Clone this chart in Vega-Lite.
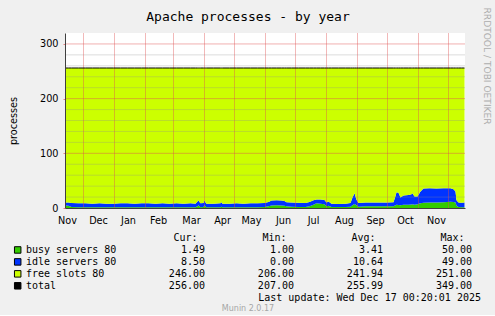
{
  "$schema": "https://vega.github.io/schema/vega-lite/v6.json",
  "background": "#F0F0F0",
  "padding": {"left": 8, "top": 7, "right": 4, "bottom": 2},
  "spacing": 30,
  "bounds": "flush",
  "config": {
    "view": {"stroke": null},
    "axis": {"labelOverlap": false},
    "text": {"font": "DejaVu Sans Mono", "fontSize": 10, "color": "#000000"}
  },
  "title": {"text": "RRDTOOL / TOBI OETIKER", "orient": "right", "anchor": "start", "frame": "bounds", "font": "DejaVu Sans", "fontSize": 9.1, "fontWeight": "normal", "color": "#ADADAD", "offset": 1, "dx": -3},
  "datasets": {
    "series": [
      {"d": "2024-11-12T12:00", "busy": 4.5, "idle": 5.5, "free": 246, "total": 256},
      {"d": "2024-11-16T00:00", "busy": 4, "idle": 6, "free": 246, "total": 256},
      {"d": "2024-11-19T00:00", "busy": 2, "idle": 7, "free": 247, "total": 256},
      {"d": "2024-11-26T00:00", "busy": 1.5, "idle": 7, "free": 247.5, "total": 256},
      {"d": "2024-12-03T00:00", "busy": 1.5, "idle": 7, "free": 247.5, "total": 256},
      {"d": "2024-12-10T00:00", "busy": 1.5, "idle": 6.5, "free": 248, "total": 256},
      {"d": "2024-12-17T00:00", "busy": 1.5, "idle": 7, "free": 247.5, "total": 256},
      {"d": "2024-12-24T00:00", "busy": 1.2, "idle": 6.8, "free": 248, "total": 256},
      {"d": "2024-12-31T00:00", "busy": 1.2, "idle": 6.8, "free": 248, "total": 256},
      {"d": "2025-01-07T00:00", "busy": 1.5, "idle": 7, "free": 247.5, "total": 256},
      {"d": "2025-01-14T00:00", "busy": 1.5, "idle": 7, "free": 247.5, "total": 256},
      {"d": "2025-01-21T00:00", "busy": 1.5, "idle": 6.5, "free": 248, "total": 256},
      {"d": "2025-01-28T00:00", "busy": 1.5, "idle": 7, "free": 247.5, "total": 256},
      {"d": "2025-02-04T00:00", "busy": 1.5, "idle": 7, "free": 247.5, "total": 256},
      {"d": "2025-02-11T00:00", "busy": 1.5, "idle": 6.5, "free": 248, "total": 256},
      {"d": "2025-02-18T00:00", "busy": 1.5, "idle": 7, "free": 247.5, "total": 256},
      {"d": "2025-02-25T00:00", "busy": 1.5, "idle": 6.5, "free": 248, "total": 256},
      {"d": "2025-03-04T00:00", "busy": 1.5, "idle": 7, "free": 247.5, "total": 256},
      {"d": "2025-03-11T00:00", "busy": 1.5, "idle": 6.5, "free": 248, "total": 256},
      {"d": "2025-03-18T00:00", "busy": 1.5, "idle": 7, "free": 247.5, "total": 256},
      {"d": "2025-03-23T00:00", "busy": 1.5, "idle": 6.5, "free": 248, "total": 256},
      {"d": "2025-03-25T00:00", "busy": 3, "idle": 9, "free": 244, "total": 256},
      {"d": "2025-03-26T00:00", "busy": 5, "idle": 9, "free": 242, "total": 256},
      {"d": "2025-03-27T00:00", "busy": 3, "idle": 8, "free": 245, "total": 256},
      {"d": "2025-03-28T00:00", "busy": 1.5, "idle": 7, "free": 247.5, "total": 256},
      {"d": "2025-03-31T00:00", "busy": 2, "idle": 7, "free": 247, "total": 256},
      {"d": "2025-04-01T00:00", "busy": 5, "idle": 9, "free": 242, "total": 256},
      {"d": "2025-04-02T00:00", "busy": 3, "idle": 7, "free": 246, "total": 256},
      {"d": "2025-04-03T00:00", "busy": 1.5, "idle": 6.5, "free": 248, "total": 256},
      {"d": "2025-04-10T00:00", "busy": 1.5, "idle": 6.5, "free": 248, "total": 256},
      {"d": "2025-04-17T00:00", "busy": 1.5, "idle": 7, "free": 247.5, "total": 256},
      {"d": "2025-04-18T00:00", "busy": 2.5, "idle": 8, "free": 245.5, "total": 256},
      {"d": "2025-04-19T00:00", "busy": 1.5, "idle": 6.5, "free": 248, "total": 256},
      {"d": "2025-04-26T00:00", "busy": 1.5, "idle": 6.5, "free": 248, "total": 256},
      {"d": "2025-05-03T00:00", "busy": 1.5, "idle": 7, "free": 247.5, "total": 256},
      {"d": "2025-05-10T00:00", "busy": 1.5, "idle": 6.5, "free": 248, "total": 256},
      {"d": "2025-05-17T00:00", "busy": 1.5, "idle": 7, "free": 247.5, "total": 256},
      {"d": "2025-05-24T00:00", "busy": 1.5, "idle": 7, "free": 247.5, "total": 256},
      {"d": "2025-05-31T00:00", "busy": 2, "idle": 7, "free": 247, "total": 256},
      {"d": "2025-06-04T00:00", "busy": 3, "idle": 8, "free": 245, "total": 256},
      {"d": "2025-06-07T00:00", "busy": 4.5, "idle": 9, "free": 242.5, "total": 256},
      {"d": "2025-06-12T00:00", "busy": 5, "idle": 9, "free": 242, "total": 256},
      {"d": "2025-06-17T00:00", "busy": 4.5, "idle": 9, "free": 242.5, "total": 256},
      {"d": "2025-06-20T00:00", "busy": 4, "idle": 9, "free": 243, "total": 256},
      {"d": "2025-06-22T00:00", "busy": 3, "idle": 7.5, "free": 245.5, "total": 256},
      {"d": "2025-06-27T00:00", "busy": 2.5, "idle": 7.5, "free": 246, "total": 256},
      {"d": "2025-07-04T00:00", "busy": 2, "idle": 7.5, "free": 246.5, "total": 256},
      {"d": "2025-07-11T00:00", "busy": 2, "idle": 7, "free": 247, "total": 256},
      {"d": "2025-07-15T00:00", "busy": 3, "idle": 8, "free": 245, "total": 256},
      {"d": "2025-07-19T00:00", "busy": 6, "idle": 8, "free": 242, "total": 256},
      {"d": "2025-07-22T00:00", "busy": 8.5, "idle": 7, "free": 240.5, "total": 256},
      {"d": "2025-07-26T00:00", "busy": 8, "idle": 7.5, "free": 240.5, "total": 256},
      {"d": "2025-07-30T00:00", "busy": 7, "idle": 7.5, "free": 241.5, "total": 256},
      {"d": "2025-08-01T00:00", "busy": 3, "idle": 7, "free": 246, "total": 256},
      {"d": "2025-08-03T00:00", "busy": 4, "idle": 8, "free": 244, "total": 256},
      {"d": "2025-08-06T00:00", "busy": 2, "idle": 6, "free": 248, "total": 256},
      {"d": "2025-08-13T00:00", "busy": 2, "idle": 5.5, "free": 248.5, "total": 256},
      {"d": "2025-08-20T00:00", "busy": 2, "idle": 6, "free": 248, "total": 256},
      {"d": "2025-08-25T00:00", "busy": 2.5, "idle": 6.5, "free": 247, "total": 256},
      {"d": "2025-08-27T00:00", "busy": 5, "idle": 14, "free": 237, "total": 256},
      {"d": "2025-08-29T00:00", "busy": 7.5, "idle": 19.5, "free": 229, "total": 256},
      {"d": "2025-08-31T00:00", "busy": 5, "idle": 10, "free": 241, "total": 256},
      {"d": "2025-09-02T00:00", "busy": 2.5, "idle": 6.5, "free": 247, "total": 256},
      {"d": "2025-09-09T00:00", "busy": 3, "idle": 7, "free": 246, "total": 256},
      {"d": "2025-09-16T00:00", "busy": 3, "idle": 7, "free": 246, "total": 256},
      {"d": "2025-09-23T00:00", "busy": 3, "idle": 7, "free": 246, "total": 256},
      {"d": "2025-09-30T00:00", "busy": 3, "idle": 7, "free": 246, "total": 256},
      {"d": "2025-10-07T00:00", "busy": 3, "idle": 7.5, "free": 245.5, "total": 256},
      {"d": "2025-10-09T00:00", "busy": 5, "idle": 17, "free": 234, "total": 256},
      {"d": "2025-10-10T00:00", "busy": 6, "idle": 23, "free": 227, "total": 256},
      {"d": "2025-10-12T00:00", "busy": 5.5, "idle": 22.5, "free": 228, "total": 256},
      {"d": "2025-10-14T00:00", "busy": 5, "idle": 14, "free": 237, "total": 256},
      {"d": "2025-10-17T00:00", "busy": 6, "idle": 17, "free": 233, "total": 256},
      {"d": "2025-10-22T00:00", "busy": 6, "idle": 18, "free": 232, "total": 256},
      {"d": "2025-10-25T00:00", "busy": 6.5, "idle": 18.5, "free": 231, "total": 256},
      {"d": "2025-10-26T00:00", "busy": 7, "idle": 20, "free": 229, "total": 256},
      {"d": "2025-10-28T00:00", "busy": 6, "idle": 15, "free": 235, "total": 256},
      {"d": "2025-10-31T00:00", "busy": 7, "idle": 14, "free": 235, "total": 256},
      {"d": "2025-11-03T00:00", "busy": 8.5, "idle": 21.5, "free": 226, "total": 256},
      {"d": "2025-11-06T00:00", "busy": 9.5, "idle": 26, "free": 220.5, "total": 256},
      {"d": "2025-11-12T00:00", "busy": 10, "idle": 26, "free": 220, "total": 256},
      {"d": "2025-11-19T00:00", "busy": 10, "idle": 25.5, "free": 220.5, "total": 256},
      {"d": "2025-11-26T00:00", "busy": 10.5, "idle": 25.5, "free": 220, "total": 256},
      {"d": "2025-12-03T00:00", "busy": 11.5, "idle": 24.5, "free": 220, "total": 256},
      {"d": "2025-12-06T00:00", "busy": 11, "idle": 23.5, "free": 221.5, "total": 256},
      {"d": "2025-12-08T00:00", "busy": 10, "idle": 20, "free": 226, "total": 256},
      {"d": "2025-12-09T00:00", "busy": 4, "idle": 10, "free": 242, "total": 256},
      {"d": "2025-12-11T00:00", "busy": 2, "idle": 8, "free": 246, "total": 256},
      {"d": "2025-12-14T00:00", "busy": 1.5, "idle": 8, "free": 246.5, "total": 256},
      {"d": "2025-12-17T00:20", "busy": 1.49, "idle": 8.5, "free": 246, "total": 256}
    ],
    "months": [
      {"m": "2024-12-01T00:00"}, {"m": "2025-01-01T00:00"}, {"m": "2025-02-01T00:00"},
      {"m": "2025-03-01T00:00"}, {"m": "2025-04-01T00:00"}, {"m": "2025-05-01T00:00"},
      {"m": "2025-06-01T00:00"}, {"m": "2025-07-01T00:00"}, {"m": "2025-08-01T00:00"},
      {"m": "2025-09-01T00:00"}, {"m": "2025-10-01T00:00"}, {"m": "2025-11-01T00:00"},
      {"m": "2025-12-01T00:00"}
    ],
    "monthLabels": [
      {"t": "2024-11-15T00:00"}, {"t": "2024-12-16T00:00"}, {"t": "2025-01-15T00:00"},
      {"t": "2025-02-14T00:00"}, {"t": "2025-03-19T00:00"}, {"t": "2025-04-19T00:00"},
      {"t": "2025-05-18T00:00"}, {"t": "2025-06-19T00:00"}, {"t": "2025-07-19T00:00"},
      {"t": "2025-08-19T00:00"}, {"t": "2025-09-19T00:00"}, {"t": "2025-10-19T00:00"},
      {"t": "2025-11-19T00:00"}
    ],
    "hminor": [
      {"g": 20}, {"g": 40}, {"g": 60}, {"g": 80}, {"g": 120}, {"g": 140}, {"g": 160},
      {"g": 180}, {"g": 220}, {"g": 240}, {"g": 260}, {"g": 280}
    ],
    "hmajor": [{"g": 100}, {"g": 200}, {"g": 300}],
    "legend": [
      {"name": "busy servers 80", "Cur:": "1.49", "Min:": "1.00", "Avg:": "3.41", "Max:": "50.00"},
      {"name": "idle servers 80", "Cur:": "8.50", "Min:": "0.00", "Avg:": "10.64", "Max:": "49.00"},
      {"name": "free slots 80", "Cur:": "246.00", "Min:": "206.00", "Avg:": "241.94", "Max:": "251.00"},
      {"name": "total", "Cur:": "256.00", "Min:": "207.00", "Avg:": "255.99", "Max:": "349.00"}
    ]
  },
  "vconcat": [
    {
      "width": 400,
      "height": 175,
      "view": {"fill": "#FFFFFF", "stroke": null},
      "title": {"text": "Apache processes - by year", "anchor": "middle", "frame": "group", "dx": -17, "offset": 9, "font": "DejaVu Sans Mono", "fontSize": 13, "fontWeight": "normal", "color": "#000000"},
      "layer": [
        {
          "data": {"name": "series"},
          "transform": [
            {"fold": ["busy", "idle", "free"], "as": ["s", "v"]},
            {"window": [{"op": "row_number", "as": "k"}], "groupby": ["d"]}
          ],
          "mark": {"type": "area", "interpolate": "linear"},
          "encoding": {
            "x": {
              "field": "d", "type": "temporal",
              "scale": {"domain": [{"year": 2024, "month": 11, "date": 12, "hours": 12}, {"year": 2025, "month": 12, "date": 17, "hours": 12}]},
              "axis": {
                "labels": false, "grid": false, "ticks": false, "tickSize": 0,
                "domainColor": "#404040", "title": null, "zindex": 1
              }
            },
            "y": {
              "field": "v", "type": "quantitative", "stack": "zero",
              "scale": {"domain": [0, 320], "nice": false},
              "axis": {
                "values": [0, 100, 200, 300],
                "grid": false,
                "tickSize": 2,
                "tickColor": "rgba(222,80,80,0.7)",
                "labelFont": "DejaVu Sans", "labelFontSize": 9.7, "labelColor": "#000000", "labelPadding": 5,
                "domainColor": "#404040",
                "title": "processes", "titleFont": "DejaVu Sans", "titleFontSize": 9.7, "titleFontWeight": "normal",
                "titleColor": "#000000", "titlePadding": 21,
                "zindex": 1
              }
            },
            "color": {
              "field": "s", "type": "nominal",
              "scale": {"domain": ["busy", "idle", "free"], "range": ["#33CC00", "#0033FF", "#CCFF00"]},
              "legend": null
            },
            "order": {"field": "k", "type": "quantitative", "sort": "ascending"}
          }
        },
        {
          "data": {"name": "hminor"},
          "mark": {"type": "rule", "color": "#8F8F8F", "opacity": 0.3, "strokeWidth": 1},
          "encoding": {"y": {"field": "g", "type": "quantitative", "title": "processes"}}
        },
        {
          "data": {"name": "hmajor"},
          "mark": {"type": "rule", "color": "#DE5050", "opacity": 0.45, "strokeWidth": 1},
          "encoding": {"y": {"field": "g", "type": "quantitative", "title": "processes"}}
        },
        {
          "data": {"name": "months"},
          "mark": {"type": "rule", "color": "#DE5050", "opacity": 0.4, "strokeWidth": 1},
          "encoding": {"x": {"field": "m", "type": "temporal", "title": null}}
        },
        {
          "data": {"name": "series"},
          "mark": {"type": "line", "color": "#000000", "strokeWidth": 1},
          "encoding": {
            "x": {"field": "d", "type": "temporal", "title": null},
            "y": {"field": "total", "type": "quantitative", "title": "processes"}
          }
        },
        {
          "data": {"name": "monthLabels"},
          "mark": {"type": "text", "font": "DejaVu Sans", "fontSize": 9.7, "align": "center", "baseline": "alphabetic", "dy": 16, "color": "#000000"},
          "encoding": {
            "x": {"field": "t", "type": "temporal", "title": null},
            "y": {"datum": 0, "type": "quantitative", "title": "processes"},
            "text": {"field": "t", "type": "temporal", "format": "%b"}
          }
        }
      ]
    },
    {
      "width": 407,
      "height": 59.75,
      "view": {"stroke": null},
      "title": {"text": "Munin 2.0.17", "orient": "bottom", "anchor": "middle", "frame": "group", "dx": -20.5, "font": "DejaVu Sans", "fontSize": 8, "fontWeight": "normal", "color": "#A6A6A6", "offset": 2},
      "layer": [
        {
          "data": {"values": [{"c": "Cur:"}, {"c": "Min:"}, {"c": "Avg:"}, {"c": "Max:"}]},
          "mark": {"type": "text", "align": "right", "baseline": "middle", "dx": -7.5},
          "encoding": {
            "x": {"field": "c", "type": "nominal", "axis": null, "scale": {"type": "point", "domain": ["Cur:", "Min:", "Avg:", "Max:"], "padding": 0.7865, "align": 1}},
            "y": {"datum": "hdr", "type": "nominal", "axis": null, "scale": {"type": "point", "domain": ["hdr", "busy servers 80", "idle servers 80", "free slots 80", "total", "upd"], "padding": 0}},
            "text": {"field": "c"}
          }
        },
        {
          "data": {"name": "legend"},
          "transform": [{"fold": ["Cur:", "Min:", "Avg:", "Max:"], "as": ["c", "v"]}],
          "mark": {"type": "text", "align": "right", "baseline": "middle"},
          "encoding": {
            "x": {"field": "c", "type": "nominal", "axis": null},
            "y": {"field": "name", "type": "nominal", "axis": null},
            "text": {"field": "v"}
          }
        },
        {
          "data": {"name": "legend"},
          "mark": {"type": "text", "align": "left", "baseline": "middle", "dx": -179},
          "encoding": {
            "x": {"datum": "Cur:", "type": "nominal", "axis": null},
            "y": {"field": "name", "type": "nominal", "axis": null},
            "text": {"field": "name"}
          }
        },
        {
          "data": {"name": "legend"},
          "mark": {"type": "square", "size": 42, "opacity": 1, "stroke": "#000000", "strokeWidth": 1, "xOffset": -187.3},
          "encoding": {
            "x": {"datum": "Cur:", "type": "nominal", "axis": null},
            "y": {"field": "name", "type": "nominal", "axis": null},
            "fill": {"field": "name", "type": "nominal", "scale": {"domain": ["busy servers 80", "idle servers 80", "free slots 80", "total"], "range": ["#33CC00", "#0033FF", "#CCFF00", "#000000"]}, "legend": null}
          }
        },
        {
          "data": {"values": [{"t": "Last update: Wed Dec 17 00:20:01 2025"}]},
          "mark": {"type": "text", "align": "right", "baseline": "middle", "dx": 9},
          "encoding": {
            "x": {"datum": "Max:", "type": "nominal", "axis": null},
            "y": {"datum": "upd", "type": "nominal", "axis": null},
            "text": {"field": "t"}
          }
        }
      ]
    }
  ]
}
